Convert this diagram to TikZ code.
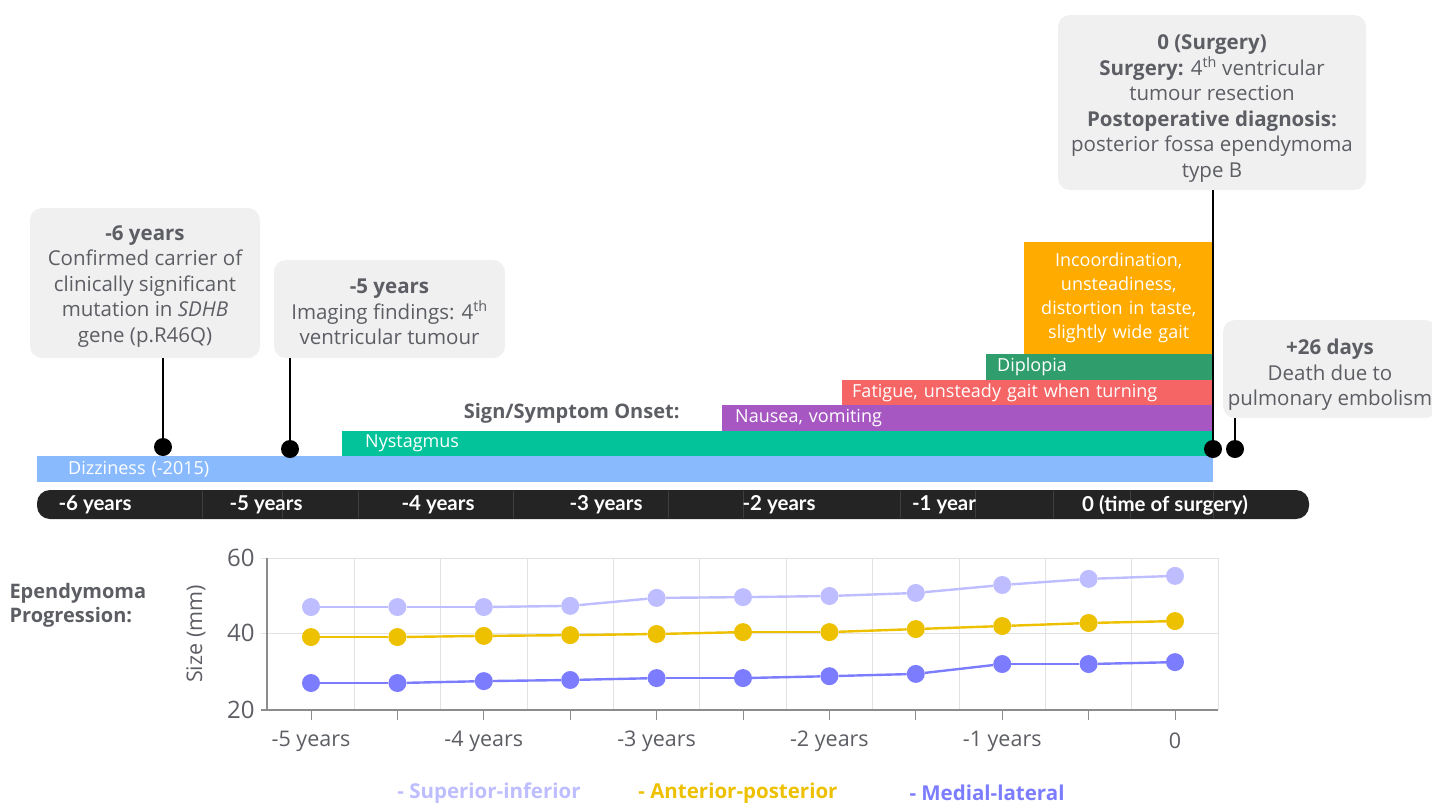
\documentclass[tikz,border=0pt]{standalone}
\usepackage{fontspec}
\setmainfont{Open Sans}
\newfontfamily\axisfont{Lato}
\usetikzlibrary{positioning,calc}
\definecolor{textgray}{RGB}{92,94,100}
\definecolor{calloutbg}{RGB}{240,240,240}
\definecolor{dizzy}{RGB}{137,186,253}
\definecolor{nystag}{RGB}{3,195,154}
\definecolor{nausea}{RGB}{167,87,194}
\definecolor{fatigue}{RGB}{245,101,101}
\definecolor{diplo}{RGB}{47,158,108}
\definecolor{incoord}{RGB}{255,171,0}
\definecolor{axisbg}{RGB}{36,36,36}
\definecolor{axissep}{RGB}{62,62,62}
\definecolor{gridgray}{RGB}{226,226,226}
\definecolor{axisgray}{RGB}{140,140,140}
\definecolor{supinf}{RGB}{189,189,255}
\definecolor{antpost}{RGB}{237,192,0}
\definecolor{medlat}{RGB}{124,124,255}

\tikzset{
  callout/.style={rectangle, rounded corners=12pt, fill=calloutbg, text=textgray,
                  align=center, inner sep=0pt, font=\fontsize{20.5}{25.5}\selectfont},
  stem/.style={line width=2.6pt, black},
  pin/.style={circle, fill=black, minimum size=18pt, inner sep=0pt},
  onset/.style={rectangle, anchor=north west, inner ysep=0pt, align=left,
                text=white, font=\fontsize{18}{24}\selectfont},
  yearlbl/.style={text=white, font=\axisfont\bfseries\fontsize{20.5}{22}\selectfont},
  chartlbl/.style={text=textgray, font=\fontsize{21.5}{24}\selectfont},
  datapt/.style={circle, minimum size=18pt, inner sep=0pt},
  series/.style={line width=2.4pt},
  legendlbl/.style={font=\bfseries\fontsize{20.5}{22}\selectfont}
}

\begin{document}
\begin{tikzpicture}[x=1pt,y=-1pt]
\useasboundingbox (0,0) rectangle (1432,804);

% callouts
\node[callout, minimum width=230pt, minimum height=150pt] (gene) at (145,283)
  {\rule{0pt}{21pt}\textbf{-6 years}\\Confirmed carrier of\\clinically significant\\mutation in \textit{SDHB}\\gene (p.R46Q)};
\node[callout, minimum width=231pt, minimum height=98pt] (imaging) at (389.5,309)
  {\rule{0pt}{21pt}\textbf{-5 years}\\Imaging findings: 4\textsuperscript{th}\\ventricular tumour};
\node[callout, minimum width=308pt, minimum height=175pt] (surgery) at (1212,102.5)
  {\rule{0pt}{27pt}\textbf{0 (Surgery)}\\\textbf{Surgery:} 4\textsuperscript{th} ventricular\\tumour resection\\\textbf{Postoperative diagnosis:}\\posterior fossa ependymoma\\type B};
\node[callout, minimum width=214pt, minimum height=98pt] (death) at (1330,369)
  {\rule{0pt}{27pt}\textbf{+26 days}\\Death due to\\pulmonary embolism};

% sign/symptom bars
\node[onset, fill=dizzy, text width=1114pt, inner xsep=31pt, minimum height=26pt] (dizziness) at (37,456) {Dizziness (-2015)};
\node[onset, fill=nystag, text width=825pt, inner xsep=23pt, minimum height=25pt] (nystagmus) at (342,431) {Nystagmus};
\node[onset, fill=nausea, text width=465pt, inner xsep=13pt, minimum height=26pt] (nausea) at (722,405) {Nausea, vomiting};
\node[onset, fill=fatigue, text width=351pt, inner xsep=10pt, minimum height=25pt] (fatigue) at (842,380) {Fatigue, unsteady gait when turning};
\node[onset, fill=diplo, text width=205pt, inner xsep=11pt, minimum height=26pt] (diplopia) at (986,354) {Diplopia};
\node[onset, fill=incoord, text width=189pt, inner xsep=0pt, minimum height=112pt, align=center] (incoord) at (1024,242)
  {Incoordination,\\unsteadiness,\\distortion in taste,\\slightly wide gait};
\node[text=textgray, font=\bfseries\fontsize{20}{22}\selectfont, anchor=east] (onsetlbl) at (683,413) {Sign/Symptom Onset:};

% pins
\node[pin] (d1) at (163,447) {};
\node[pin] (d2) at (290,449) {};
\node[pin] (d3) at (1213,449) {};
\node[pin] (d4) at (1235,449) {};
\draw[stem] (d1) -- (d1 |- gene.south);
\draw[stem] (d2) -- (d2 |- imaging.south);
\draw[stem] (d3) -- (d3 |- surgery.south);
\draw[stem] (d4) -- (d4 |- death.south);

% time axis
\node[rectangle, rounded corners=13pt, fill=axisbg, minimum width=1272pt, minimum height=29pt, inner sep=0pt] (timeaxis) at (673,504.5) {};
\foreach \x in {202,282,358,513,668,743,900,975,1053,1130,1213}
  \draw[axissep, line width=0.8pt] (\x,491) -- (\x,518);
\foreach \x/\lbl in {95/-6 years, 266/-5 years, 438/-4 years, 606/-3 years, 779/-2 years, 944/-1 year, 1165/0 (time of surgery)}
  \node[yearlbl] (yr\x) at (\x,505) {\lbl};

% progression chart
\foreach \i in {0,...,10}
  \draw[gridgray, line width=1pt] ({354.2+86.4*\i},558) -- ({354.2+86.4*\i},710);
\draw[gridgray, line width=1pt] (261,558) -- (1218,558);
\draw[gridgray, line width=1pt] (261,633) -- (1218,633);
\draw[axisgray, line width=1.2pt] (267,558) -- (267,710) -- (1218,710);
\draw[axisgray, line width=1.2pt] (261,710) -- (267,710);
\foreach \i in {0,...,10}
  \draw[axisgray, line width=1pt] ({311+86.4*\i},710) -- ({311+86.4*\i},720);
\node[chartlbl, font=\fontsize{24}{26}\selectfont, anchor=east] (y60) at (258,558) {60};
\node[chartlbl, font=\fontsize{24}{26}\selectfont, anchor=east] (y40) at (258,633) {40};
\node[chartlbl, font=\fontsize{24}{26}\selectfont, anchor=east] (y20) at (258,710) {20};
\node[chartlbl, rotate=90] (ytitle) at (196,634) {Size (mm)};
\foreach \i/\lbl in {0/-5 years, 2/-4 years, 4/-3 years, 6/-2 years, 8/-1 years, 10/0}
  \node[chartlbl] (xl\i) at ({311+86.4*\i},741) {\lbl};
\node[text=textgray, font=\bfseries\fontsize{20}{24}\selectfont, align=left, anchor=west] (progress) at (6,605) {Ependymoma\\Progression:};

\foreach \v [count=\i from 0] in {47.1,47.1,47.1,47.4,49.5,49.7,50.0,50.8,52.9,54.5,55.3}
  \node[datapt, fill=supinf] (si\i) at ({311+86.4*\i},{710-(\v-20)*3.8}) {};
\foreach \v [count=\i from 0] in {39.2,39.2,39.5,39.7,40.0,40.5,40.5,41.3,42.1,42.9,43.4}
  \node[datapt, fill=antpost] (ap\i) at ({311+86.4*\i},{710-(\v-20)*3.8}) {};
\foreach \v [count=\i from 0] in {27.1,27.1,27.6,27.9,28.4,28.4,28.9,29.5,32.1,32.1,32.6}
  \node[datapt, fill=medlat] (ml\i) at ({311+86.4*\i},{710-(\v-20)*3.8}) {};
\foreach \i [evaluate=\i as \j using int(\i-1)] in {1,...,10} {
  \draw[series, supinf] (si\j) -- (si\i);
  \draw[series, antpost] (ap\j) -- (ap\i);
  \draw[series, medlat] (ml\j) -- (ml\i);
}

% legend
\node[legendlbl, text=supinf] (legsi) at (489,793) {- Superior-inferior};
\node[legendlbl, text=antpost] (legap) at (738,793) {- Anterior-posterior};
\node[legendlbl, text=medlat] (legml) at (987,793) {- Medial-lateral};
\end{tikzpicture}
\end{document}
